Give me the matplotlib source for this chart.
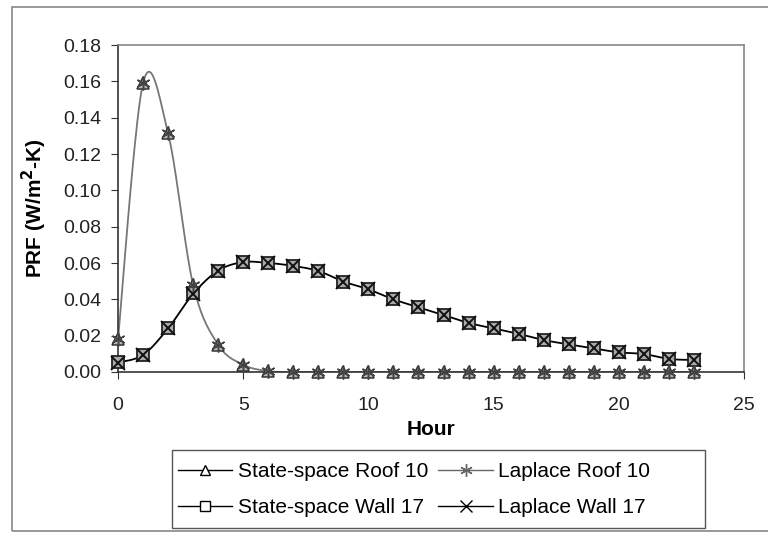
import numpy as np
import matplotlib.pyplot as plt
from matplotlib.patches import Rectangle

plt.rcParams['font.family'] = ['Liberation Sans', 'DejaVu Sans']

hours = list(range(24))
roof_ss = [0.018, 0.159, 0.1315, 0.048, 0.015, 0.004, 0.0005, 0, 0, 0, 0, 0,
           0, 0, 0, 0, 0, 0, 0, 0, 0, 0, 0, 0]
roof_lp = [0.018, 0.159, 0.1315, 0.048, 0.015, 0.004, 0.0005, 0, 0, 0, 0, 0,
           0, 0, 0, 0, 0, 0, 0, 0, 0, 0, 0, 0]
wall_ss = [0.0057, 0.0094, 0.024, 0.0435, 0.0558, 0.0605, 0.060, 0.0584, 0.0556, 0.0498,
           0.0455, 0.040, 0.0356, 0.0314, 0.027, 0.024, 0.021, 0.0176, 0.0152, 0.013,
           0.0108, 0.0099, 0.0072, 0.0066]
wall_lp = [0.0052, 0.0094, 0.024, 0.0430, 0.0558, 0.0605, 0.060, 0.0584, 0.0556, 0.0498,
           0.0455, 0.040, 0.0356, 0.0314, 0.027, 0.024, 0.021, 0.0176, 0.0152, 0.013,
           0.0108, 0.0099, 0.0072, 0.0066]


# Excel-like smoothed line (Catmull-Rom through the points)
def smooth(x, y, n=20):
    x = np.asarray(x, float)
    y = np.asarray(y, float)
    px = np.concatenate([[x[0]], x, [x[-1]]])
    py = np.concatenate([[y[0]], y, [y[-1]]])
    xs, ys = [], []
    t = np.linspace(0, 1, n)
    for i in range(1, len(px) - 2):
        p0, p1, p2, p3 = px[i-1], px[i], px[i+1], px[i+2]
        q0, q1, q2, q3 = py[i-1], py[i], py[i+1], py[i+2]
        for a, b, c, d, out in ((p0, p1, p2, p3, xs), (q0, q1, q2, q3, ys)):
            out.extend(0.5 * (2*b + (-a + c)*t + (2*a - 5*b + 4*c - d)*t**2
                              + (-a + 3*b - 3*c + d)*t**3))
    return np.array(xs), np.array(ys)


fig = plt.figure(figsize=(7.68, 5.34), dpi=100)
ax = fig.add_axes([118/768, 1 - 372/534, (744-118)/768, (372-45)/534])

# outer chart border and legend box
fig.patches.append(Rectangle((12/768, 3/534), 760/768, 524/534, transform=fig.transFigure,
                             fill=False, edgecolor='#888888', lw=1.2))
fig.patches.append(Rectangle((172/768, 1 - 528/534), (705-172)/768, 78/534, transform=fig.transFigure,
                             fill=False, edgecolor='#555555', lw=1.0))

grey = '#777777'
sx, sy = smooth(hours, roof_lp)
ax.plot(sx, sy, color=grey, lw=1.3, zorder=2)
sx, sy = smooth(hours, wall_lp)
ax.plot(sx, sy, color='black', lw=1.3, zorder=2)

ax.plot(hours, roof_ss, ls='none', marker='^', ms=9, mfc='#bbbbbb', mec='#333333', mew=1.1, zorder=3, clip_on=False)
ax.plot(hours, roof_lp, ls='none', marker=(6, 2, 0), ms=10, mec='#444444', mew=1.1, zorder=4, clip_on=False)
ax.plot(hours, wall_ss, ls='none', marker='s', ms=9, mfc='#aaaaaa', mec='#222222', mew=1.3, zorder=3, clip_on=False)
ax.plot(hours, wall_lp, ls='none', marker='x', ms=10, mec='#111111', mew=1.4, zorder=4, clip_on=False)

# legend proxies
h1, = ax.plot([], [], color='black', lw=1, marker='^', ms=7, mfc='white', mec='black')
h2, = ax.plot([], [], color='#666666', lw=1, marker=(6, 2, 0), ms=9, mec='#666666')
h3, = ax.plot([], [], color='black', lw=1, marker='s', ms=7, mfc='white', mec='black')
h4, = ax.plot([], [], color='black', lw=1, marker='x', ms=9, mec='black')
leg = fig.legend([h1, h3, h2, h4],
                 ['State-space Roof 10', 'State-space Wall 17', 'Laplace Roof 10', 'Laplace Wall 17'],
                 ncol=2, loc='upper left', bbox_to_anchor=(172/768, 1 - 456/534),
                 fontsize=15, frameon=False,
                 handlelength=2.6, handletextpad=0.25, columnspacing=0.5, borderpad=0.3,
                 borderaxespad=0, labelspacing=0.8)

ax.set_xlim(0, 25)
ax.set_ylim(0, 0.18)
ax.set_xticks([0, 5, 10, 15, 20, 25])
ax.set_yticks(np.arange(0, 0.181, 0.02))
ax.set_yticklabels([f'{v:.2f}' for v in np.arange(0, 0.181, 0.02)])
ax.tick_params(direction='out', length=5, labelsize=14, color='#333333', labelcolor='#222222', pad=7)
ax.tick_params(axis='x', pad=13)
ax.set_xlabel('Hour', fontsize=15, fontweight='bold', labelpad=4)
ax.set_ylabel('PRF (W/m$^{\\mathbf{2}}$-K)', fontsize=15, fontweight='bold', labelpad=10)
for side in ['left', 'bottom']:
    ax.spines[side].set_color('#333333')
    ax.spines[side].set_linewidth(1.2)
for side in ['top', 'right']:
    ax.spines[side].set_color('#888888')
    ax.spines[side].set_linewidth(1.2)

fig.savefig('out.png', dpi=100)
